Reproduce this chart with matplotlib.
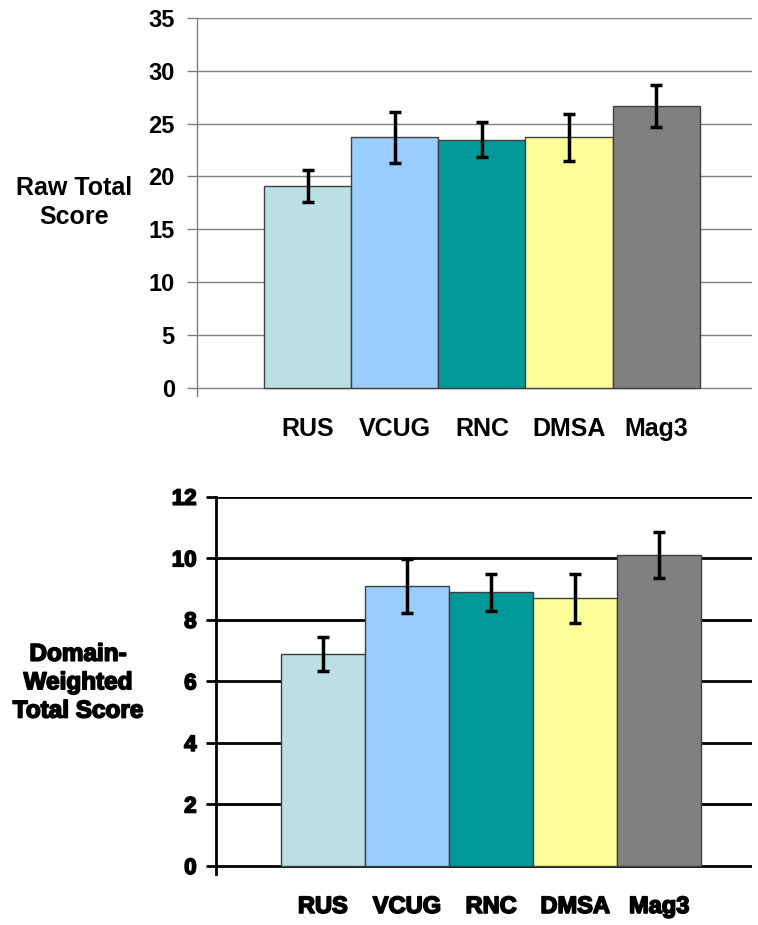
import matplotlib.pyplot as plt
import matplotlib.patheffects as pe

categories = ['RUS', 'VCUG', 'RNC', 'DMSA', 'Mag3']
colors = ['#BBE0E3', '#99CCFF', '#009999', '#FFFF99', '#808080']

raw_score = [19.1, 23.7, 23.5, 23.7, 26.7]
raw_err = [1.5, 2.45, 1.7, 2.2, 2.0]

weighted_score = [6.9, 9.1, 8.9, 8.7, 10.1]
weighted_err = [0.55, 0.875, 0.6, 0.8, 0.75]

plt.rcParams['font.family'] = ['Liberation Sans', 'DejaVu Sans']
plt.rcParams['font.weight'] = 'bold'

fig = plt.figure(figsize=(7.58, 9.25), dpi=100)


def plotagem(ax, valores, erros, ymax, passo, cor_grade, lw_grade, rotulo, rot_x, rot_y,
             tam_tick, tam_x, tam_rot, grosso, pad_x, pad_y):
    efeito = [pe.withStroke(linewidth=grosso, foreground='black')] if grosso else None
    x = list(range(len(categories)))
    ax.bar(x, valores, width=1.0, color=colors, edgecolor='#404040', linewidth=1, zorder=3)
    ax.errorbar(x, valores, yerr=erros, fmt='none', ecolor='black', elinewidth=2.5,
                capsize=4, capthick=2.5, zorder=4)
    ax.set_xlim(-1.27, 5.1)
    ax.set_ylim(-ymax * 0.022, ymax)
    ax.set_yticks(range(0, ymax + 1, passo))
    ax.yaxis.grid(True, color=cor_grade, linewidth=lw_grade, zorder=0)
    ax.set_axisbelow(True)
    for lado in ['top', 'right', 'bottom']:
        ax.spines[lado].set_visible(False)
    ax.spines['left'].set_color(cor_grade)
    ax.spines['left'].set_linewidth(lw_grade)
    ax.tick_params(axis='y', length=7, width=lw_grade, color=cor_grade, labelsize=tam_tick, pad=pad_y)
    ax.set_xticks(x)
    ax.set_xticklabels(categories, fontsize=tam_x, fontweight='bold')
    ax.tick_params(axis='x', length=0, pad=pad_x)
    for t in ax.get_yticklabels() + ax.get_xticklabels():
        t.set_fontweight('bold')
        if efeito:
            t.set_path_effects(efeito)
    fig.text(rot_x, rot_y, rotulo, ha='center', va='center', fontsize=tam_rot,
             fontweight='bold', linespacing=1.3, path_effects=efeito)


ax1 = fig.add_axes([0.260, 0.572, 0.732, 0.4085])
plotagem(ax1, raw_score, raw_err, 35, 5, '#808080', 1.0,
         'Raw Total\nScore', 0.098, 0.781, 17, 18, 18, 0, 15, 9)

ax2 = fig.add_axes([0.285, 0.055, 0.707, 0.408])
plotagem(ax2, weighted_score, weighted_err, 12, 2, 'black', 2.0,
         'Domain-\nWeighted\nTotal Score', 0.103, 0.262, 16, 17, 17.5, 1.2, 15, 7)

fig.savefig('out.png', dpi=100)
